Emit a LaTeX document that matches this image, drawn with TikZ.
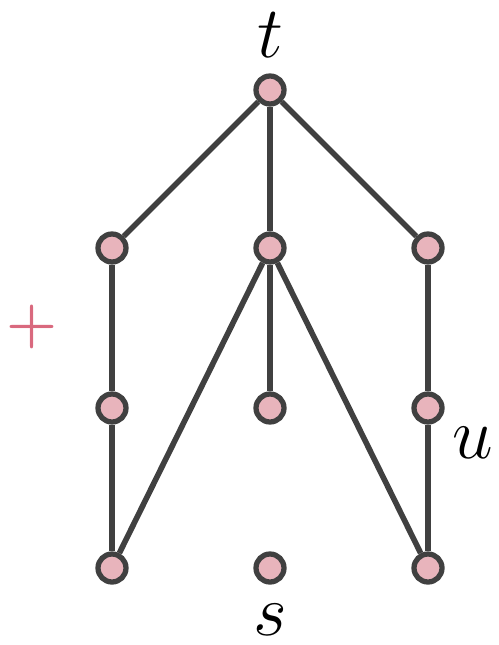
\documentclass[tikz,border=0pt]{standalone}
\usepackage{tikz}
\definecolor{vfill}{HTML}{E8B4BC}
\definecolor{vline}{HTML}{404040}
\definecolor{plusred}{HTML}{D9697E}
\tikzset{
  vert/.style={circle,draw=vline,fill=vfill,line width=3pt,minimum size=0.56cm,inner sep=0pt},
  edge/.style={draw=vline,line width=3.2pt},
  lab/.style={font=\huge,scale=2,transform shape,inner sep=0pt}
}
\begin{document}
\begin{tikzpicture}[x=0.02cm,y=-0.02cm]
\useasboundingbox (0,0) rectangle (499,645);
% vertices
\node[vert] (t) at (270,90) {};
\node[vert] (a1) at (112,248) {};
\node[vert] (b1) at (270,248) {};
\node[vert] (c1) at (428,248) {};
\node[vert] (a2) at (112,408) {};
\node[vert] (b2) at (270,408) {};
\node[vert] (c2) at (428,408) {};
\node[vert] (a3) at (112,568) {};
\node[vert] (s) at (270,568) {};
\node[vert] (c3) at (428,568) {};
% edges
\draw[edge] (t) -- (a1);
\draw[edge] (t) -- (b1);
\draw[edge] (t) -- (c1);
\draw[edge] (a1) -- (a2);
\draw[edge] (a2) -- (a3);
\draw[edge] (b1) -- (a3);
\draw[edge] (b1) -- (b2);
\draw[edge] (b1) -- (c3);
\draw[edge] (c1) -- (c2);
\draw[edge] (c2) -- (c3);
% labels
\node[lab] (tl) at (270,35) {$t$};
\node[lab] (sl) at (270,620) {$s$};
\node[lab] (ul) at (473,443) {$u$};
\node[lab,scale=0.8,text=plusred] (pl) at (32,327) {\textbf{+}};
\end{tikzpicture}
\end{document}
